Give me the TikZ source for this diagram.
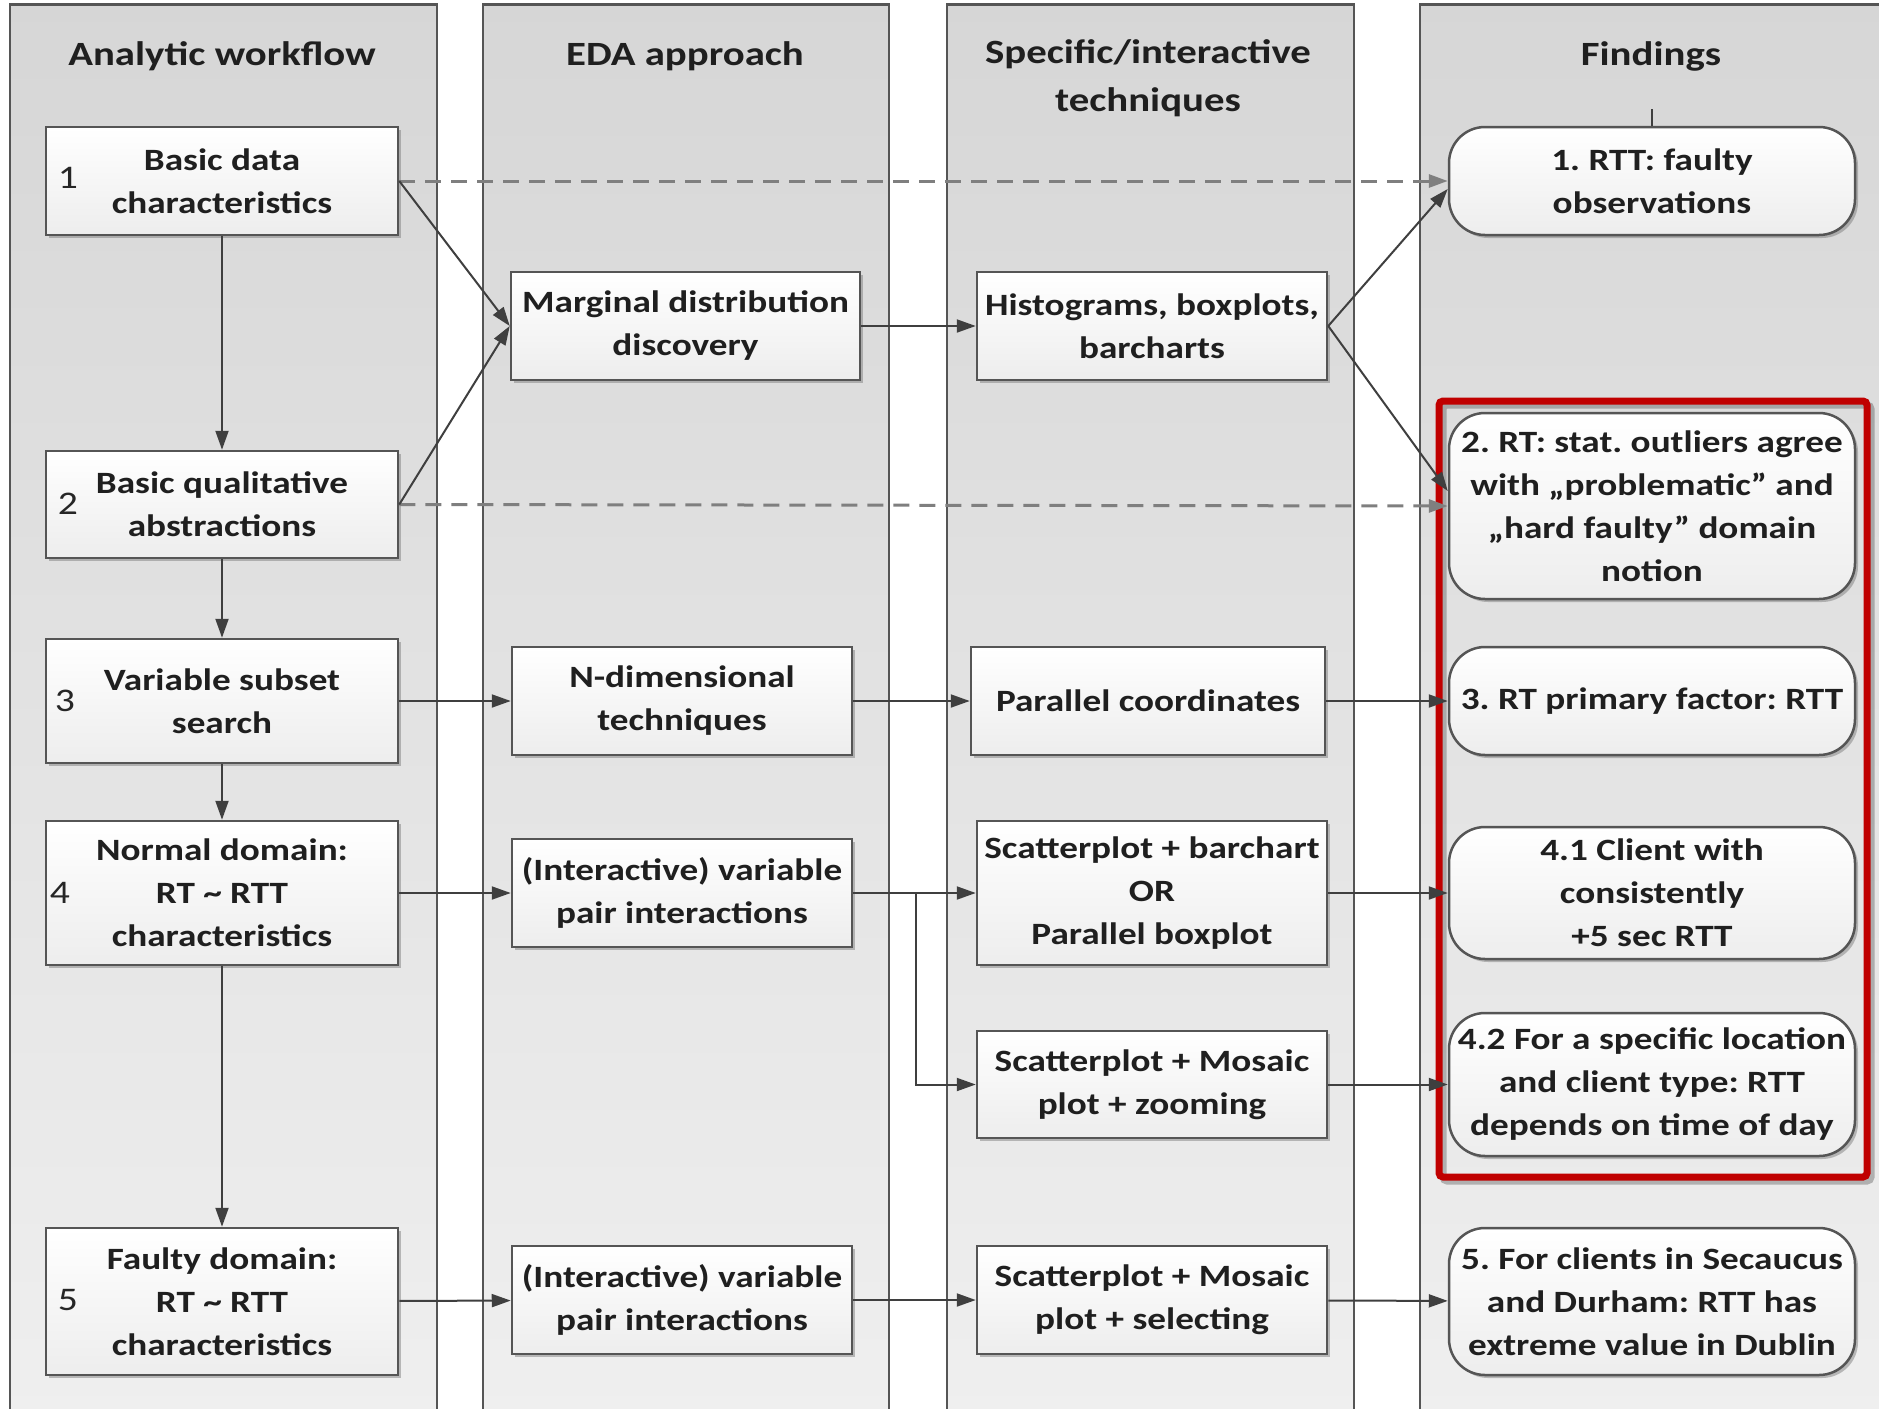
\documentclass[tikz,border=0pt]{standalone}
\usepackage{fontspec}
\setmainfont{Carlito}[FakeStretch=1.2]
\usetikzlibrary{arrows.meta,shadows}
\definecolor{edgegray}{HTML}{555555}
\definecolor{arrowgray}{HTML}{3F3F3F}
\definecolor{dashgray}{HTML}{7F7F7F}
\definecolor{framered}{HTML}{C00000}
\frenchspacing

\begin{document}
\begin{tikzpicture}[x=1pt,y=-1pt,
 lane/.style={draw=edgegray,line width=2.5pt,top color=gray!32,bottom color=gray!12,
  minimum width=#1,minimum height=1460pt,anchor=north,inner sep=0pt},
 title/.style={font=\fontsize{34}{48}\selectfont\bfseries,align=center,text=black!88},
 box/.style={draw=edgegray,line width=2.5pt,top color=white,bottom color=gray!14,
  font=\fontsize{31}{43}\selectfont\bfseries,text=black!88,align=center,inner sep=0pt,
  minimum width=#1,drop shadow={shadow xshift=3pt,shadow yshift=-3pt,opacity=.45,fill=black!55}},
 finding/.style={box=406pt,rounded corners=36pt},
 num/.style={font=\fontsize{33}{40}\selectfont,text=black!85},
 arr/.style={draw=arrowgray,line width=2pt,-{Triangle[length=19pt,width=13pt]}},
 dasharr/.style={draw=dashgray,line width=3pt,dash pattern=on 16pt off 10pt,
  -{Triangle[length=19pt,width=13pt]}},
 redframe/.style={draw=framered,line width=7pt,rounded corners=4pt},
 frameshadow/.style={draw=black,opacity=.25,line width=7pt,rounded corners=4pt}
]
\useasboundingbox (0,0) rectangle (1879,1408);
% swimlanes
\node[lane=427pt] (lane1) at (223.5,3) {};
\node[lane=406pt] (lane2) at (686,3) {};
\node[lane=407pt] (lane3) at (1150.5,3) {};
\node[lane=480pt] (lane4) at (1660,3) {};
\node[title] (t1) at (222,56) {Analytic workflow};
\node[title] (t2) at (685,56) {EDA approach};
\node[title] (t3) at (1148,78) {Specific/interactive\\techniques};
\node[title] (t4) at (1651,56) {Findings};

% analytic workflow
\node[box=352pt,minimum height=108pt] (B1) at (222,181) {Basic data\\characteristics};
\node[box=352pt,minimum height=107pt] (B2) at (222,504.5) {Basic qualitative\\abstractions};
\node[box=352pt,minimum height=124pt] (B3) at (222,701) {Variable subset\\search};
\node[box=352pt,minimum height=144pt] (B4) at (222,893) {Normal domain:\\RT \textasciitilde{} RTT\\characteristics};
\node[box=352pt,minimum height=147pt] (B5) at (222,1301.5) {Faulty domain:\\RT \textasciitilde{} RTT\\characteristics};
\node[num] (n1) at (68,178) {1};
\node[num] (n2) at (68,504) {2};
\node[num] (n3) at (65,701) {3};
\node[num] (n4) at (60,893) {4};
\node[num] (n5) at (68,1300) {5};

% EDA approach
\node[box=349pt,minimum height=108pt] (M) at (685.5,326) {Marginal distribution\\discovery};
\node[box=340pt,minimum height=108pt] (N) at (682,701) {N-dimensional\\techniques};
\node[box=340pt,minimum height=108pt] (I1) at (682,893) {(Interactive) variable\\pair interactions};
\node[box=340pt,minimum height=108pt] (I2) at (682,1300) {(Interactive) variable\\pair interactions};

% techniques
\node[box=350pt,minimum height=108pt] (H) at (1152,326) {Histograms, boxplots,\\barcharts};
\node[box=354pt,minimum height=108pt] (P) at (1148,701) {Parallel coordinates};
\node[box=350pt,minimum height=144pt] (S1) at (1152,893) {Scatterplot + barchart\\OR\\Parallel boxplot};
\node[box=350pt,minimum height=107pt] (S2) at (1152,1084.5) {Scatterplot + Mosaic\\plot + zooming};
\node[box=350pt,minimum height=108pt] (S3) at (1152,1300) {Scatterplot + Mosaic\\plot + selecting};

% findings
\node[finding,minimum height=108pt] (F1) at (1652,181) {1. RTT: faulty\\observations};
\node[finding,minimum height=186pt] (F2) at (1652,506) {2. RT: stat. outliers agree\\with „problematic” and\\„hard faulty” domain\\notion};
\node[finding,minimum height=108pt] (F3) at (1652,701) {3. RT primary factor: RTT};
\node[finding,minimum height=132pt] (F41) at (1652,893) {4.1 Client with\\consistently\\+5 sec RTT};
\node[finding,minimum height=143pt] (F42) at (1652,1084.5) {4.2 For a specific location\\and client type: RTT\\depends on time of day};
\node[finding,minimum height=147pt] (F5) at (1652,1301.5) {5. For clients in Secaucus\\and Durham: RTT has\\extreme value in Dublin};
\draw[frameshadow] (1443,405) rectangle (1871,1181);
\draw[redframe] (1439,401) rectangle (1867,1177);

% connectors
\draw[draw=arrowgray,line width=2pt] (F1.north) -- ++(0,-17);
\draw[arr] (B1) -- (B2);
\draw[arr] (B2) -- (B3);
\draw[arr] (B3) -- (B4);
\draw[arr] (B4) -- (B5);
\draw[dasharr] (B1.east) -- (F1.west);
\draw[dasharr] (B2.east) -- (F2.west);
\draw[arr] (B1.east) -- (M.west);
\draw[arr] (B2.east) -- (M.west);
\draw[arr] (M) -- (H);
\draw[arr] (H.east) -- ([yshift=-8pt]F1.west);
\draw[arr] (H.east) -- ([yshift=15pt]F2.west);
\draw[arr] (B3) -- (N);
\draw[arr] (N) -- (P);
\draw[arr] (P) -- (F3);
\draw[arr] (B4) -- (I1);
\draw[arr] (I1) -- (S1);
\draw[arr] (S1) -- (F41);
\coordinate (split) at (916,893);
\draw[arr] (split) |- (S2.west);
\draw[arr] (S2) -- (F42);
\draw[arr] (B5) -- (I2);
\draw[arr] (I2) -- (S3);
\draw[arr] (S3) -- (F5);
\end{tikzpicture}
\end{document}
